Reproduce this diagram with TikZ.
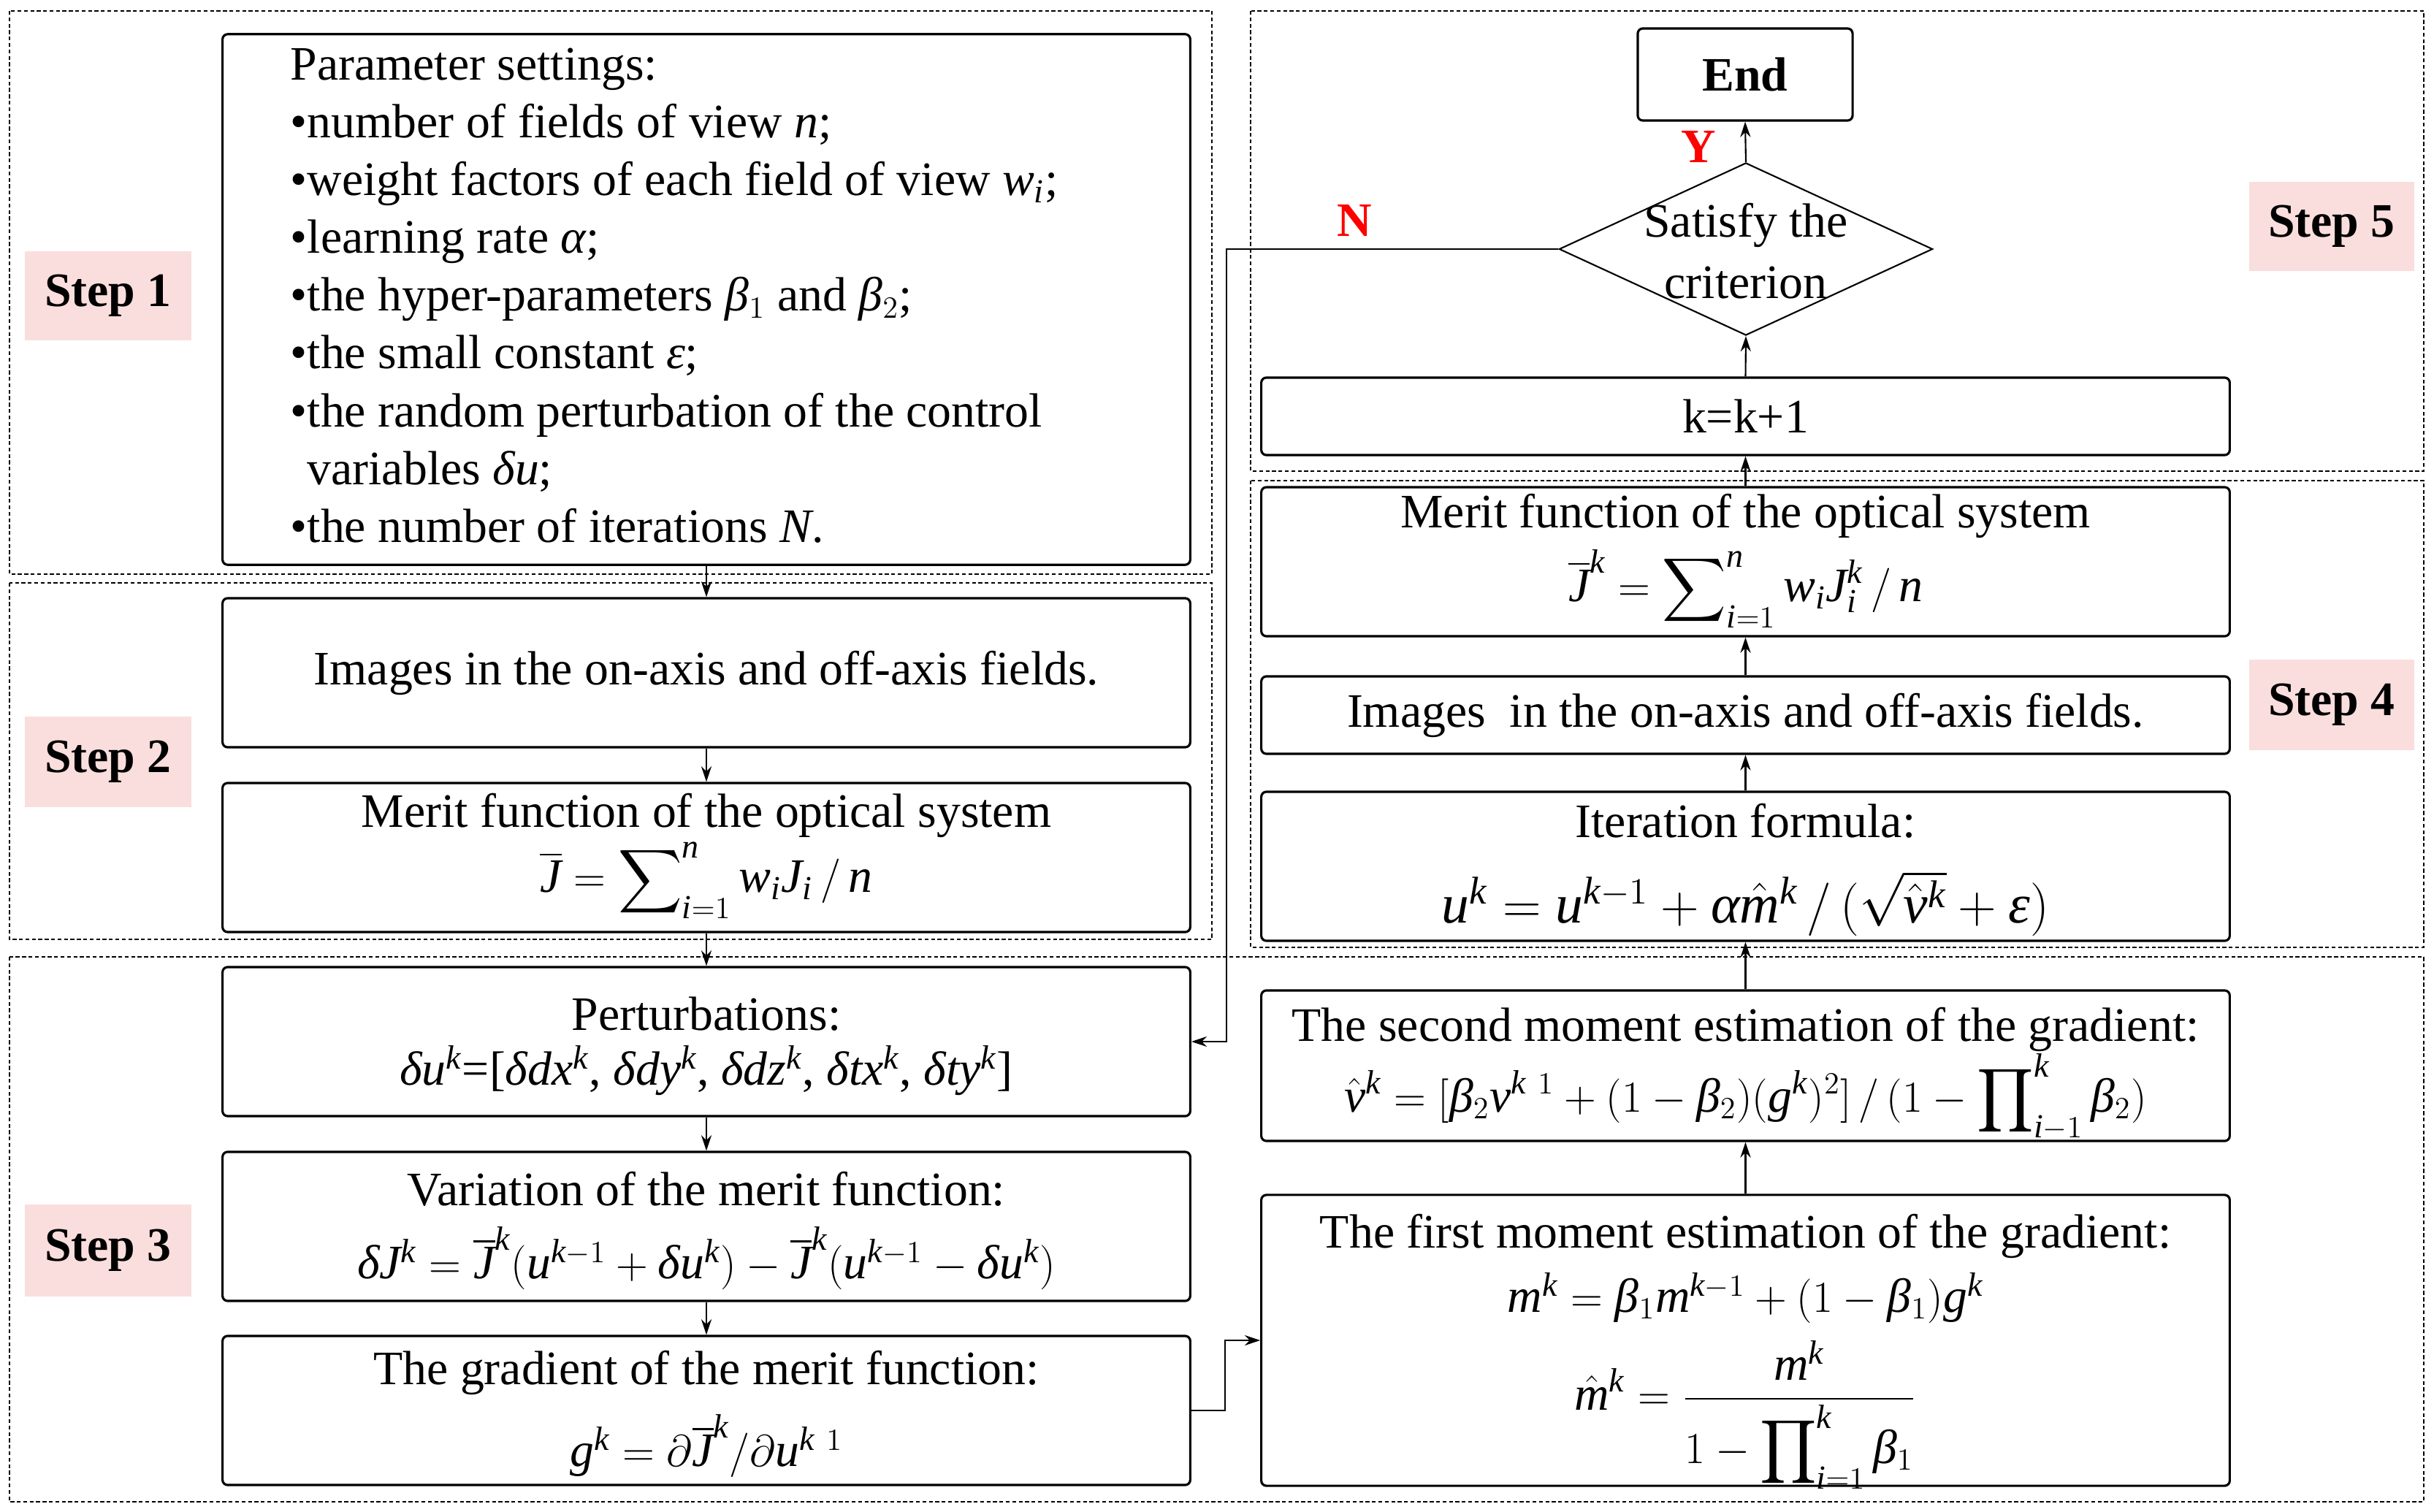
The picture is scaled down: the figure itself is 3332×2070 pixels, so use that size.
\documentclass[tikz,border=0pt]{standalone}
\usepackage{amsmath}
\usepackage{fontspec}
\setmainfont{Liberation Serif}[NFSSFamily=libser]
\DeclareSymbolFont{tletters}{TU}{libser}{m}{it}
\DeclareSymbolFont{troman}{TU}{libser}{m}{n}
\makeatletter
\@tempcnta=`a
\loop
  \Umathcode\@tempcnta="7 \symtletters \@tempcnta
  \advance\@tempcnta 1
\ifnum\@tempcnta<123 \repeat
\@tempcnta=`A
\loop
  \Umathcode\@tempcnta="7 \symtletters \@tempcnta
  \advance\@tempcnta 1
\ifnum\@tempcnta<91 \repeat
\@tempcnta=`0
\loop
  \Umathcode\@tempcnta="7 \symtroman \@tempcnta
  \advance\@tempcnta 1
\ifnum\@tempcnta<58 \repeat
\makeatother
\AtBeginDocument{%
  \Umathchardef\alpha="7 \symtletters "03B1
  \Umathchardef\beta="7 \symtletters "03B2
  \Umathchardef\delta="7 \symtletters "03B4
  \Umathchardef\varepsilon="7 \symtletters "03B5
}
\usetikzlibrary{shapes.geometric,arrows.meta}
\newcommand\myfs{\fontsize{18.7}{22.4}\selectfont}
\definecolor{stepink}{RGB}{249,222,221}
\begin{document}
\begin{tikzpicture}[x=0.01cm,y=-0.01cm,
  every node/.style={font=\myfs},
  box/.style={draw, line width=0.9pt, rounded corners=2pt, inner sep=0pt},
  frame/.style={draw, line width=0.6pt, dash pattern=on 1.5pt off 1pt},
  steplab/.style={fill=stepink, inner sep=0pt, font=\myfs\bfseries},
  arr/.style={line width=0.6pt, -{Stealth[length=6pt,width=4pt]}},
  lbl/.style={text=red, font=\myfs\bfseries},
  txt/.style={inner sep=0pt},
  pline/.style={anchor=base west, inner sep=0pt}]
\useasboundingbox (0,0) rectangle (3332,2070);
% dashed frames
\draw[frame] (13,15) rectangle (1659,786);
\draw[frame] (13,798) rectangle (1659,1286);
\draw[frame] (13,1310) rectangle (3318,2056);
\draw[frame] (1712,15) rectangle (3318,645);
\draw[frame] (1712,658) rectangle (3318,1297);
% step labels
\node[steplab, minimum width=2.27cm, minimum height=1.22cm] (s1) at (148,405) {Step 1};
\node[steplab, minimum width=2.27cm, minimum height=1.24cm] (s2) at (148,1043) {Step 2};
\node[steplab, minimum width=2.27cm, minimum height=1.25cm] (s3) at (148,1712) {Step 3};
\node[steplab, minimum width=2.26cm, minimum height=1.22cm] (s5) at (3192,310) {Step 5};
\node[steplab, minimum width=2.26cm, minimum height=1.24cm] (s4) at (3192,965) {Step 4};
% left column boxes
\node[box, minimum width=13.24cm, minimum height=7.26cm] (params) at (967,410) {};
\node[box, minimum width=13.24cm, minimum height=2.04cm] (img1) at (967,921) {};
\node[box, minimum width=13.24cm, minimum height=2.04cm] (merit1) at (967,1174) {};
\node[box, minimum width=13.24cm, minimum height=2.04cm] (pert) at (967,1426) {};
\node[box, minimum width=13.24cm, minimum height=2.04cm] (var) at (967,1679) {};
\node[box, minimum width=13.24cm, minimum height=2.04cm] (grad) at (967,1931) {};
% right column boxes
\node[box, minimum width=2.94cm, minimum height=1.26cm, font=\myfs\bfseries] (end) at (2389,102) {End};
\node[draw, line width=0.6pt, diamond, inner sep=0pt, minimum width=5.11cm, minimum height=2.36cm] (dia) at (2390,341) {};
\node[box, minimum width=13.25cm, minimum height=1.06cm] (kbox) at (2389.5,570) {k=k+1};
\node[box, minimum width=13.25cm, minimum height=2.04cm] (merit2) at (2389.5,769) {};
\node[box, minimum width=13.25cm, minimum height=1.06cm] (img2) at (2389.5,979) {Images\ \ in the on-axis and off-axis fields.};
\node[box, minimum width=13.25cm, minimum height=2.04cm] (iter) at (2389.5,1186) {};
\node[box, minimum width=13.25cm, minimum height=2.06cm] (second) at (2389.5,1459) {};
\node[box, minimum width=13.25cm, minimum height=3.98cm] (first) at (2389.5,1835) {};
% parameter text
\node[pline] (p1) at (397,110) {Parameter settings:};
\node[pline] (p2) at (397,189) {\textbullet number of fields of view $n$;};
\node[pline] (p3) at (397,268) {\textbullet weight factors of each field of view $w_i$;};
\node[pline] (p4) at (397,347) {\textbullet learning rate $\alpha$;};
\node[pline] (p5) at (397,426) {\textbullet the hyper-parameters $\beta_1$ and $\beta_2$;};
\node[pline] (p6) at (397,505) {\textbullet the small constant $\varepsilon$;};
\node[pline] (p7) at (397,584) {\textbullet the random perturbation of the control};
\node[pline] (p8) at (397,663) {\phantom{\textbullet}variables $\delta u$;};
\node[pline] (p9) at (397,742) {\textbullet the number of iterations $N$.};
% left column texts
\node[txt] (t_img1) at (967,921) {Images in the on-axis and off-axis fields.};
\node[txt] (t_m1a) at (967,1116) {Merit function of the optical system};
\node[txt] (t_m1b) at (967,1205) {$\displaystyle \overline{J}=\sum\nolimits_{i=1}^{n} w_iJ_i\,/\,n$};
\node[txt] (t_pa) at (967,1388) {Perturbations:};
\node[txt] (t_pb) at (967,1466) {$\delta u^k$=[$\delta dx^k$, $\delta dy^k$, $\delta dz^k$, $\delta tx^k$, $\delta ty^k$]};
\node[txt] (t_va) at (967,1628) {Variation of the merit function:};
\node[txt] (t_vb) at (967,1723) {$\delta J^k=\overline{J}^k(u^{k-1}+\delta u^k)-\overline{J}^k(u^{k-1}-\delta u^k)$};
\node[txt] (t_ga) at (967,1879) {The gradient of the merit function:};
\node[txt] (t_gb) at (967,1980) {$g^k=\partial\overline{J}^k/\partial u^{k\ 1}$};
% right column texts
\node[txt] (t_d1) at (2390,308) {Satisfy the};
\node[txt] (t_d2) at (2390,387) {criterion};
\node[txt] (t_m2a) at (2389.5,706) {Merit function of the optical system};
\node[txt] (t_m2b) at (2389.5,806) {$\displaystyle \overline{J}^k=\sum\nolimits_{i=1}^{n} w_iJ_i^k\,/\,n$};
\node[txt] (t_ia) at (2389.5,1124) {Iteration formula:};
\node[txt] (t_ib) at (2389.5,1237) {\fontsize{21.5}{26}\selectfont$u^k=u^{k-1}+\alpha\hat{m}^k\,/\,(\sqrt{\hat{v}^k}+\varepsilon)$};
\node[txt] (t_sa) at (2389.5,1409) {The second moment estimation of the gradient:};
\node[txt] (t_sb) at (2389.5,1502) {$\displaystyle \hat{v}^k=[\beta_2v^{k\ 1}+(1-\beta_2)(g^k)^2]\,/\,(1-\prod\nolimits_{i-1}^{k}\beta_2)$};
\node[txt] (t_fa) at (2389.5,1692) {The first moment estimation of the gradient:};
\node[txt] (t_fb) at (2389.5,1777) {$m^k=\beta_1m^{k-1}+(1-\beta_1)g^k$};
\node[txt] (t_fc) at (2389.5,1937) {$\displaystyle \hat{m}^k=\frac{m^k}{1-\displaystyle\prod\nolimits_{i=1}^{k}\beta_1}$};
% labels
\node[lbl] (ylab) at (2325,201) {Y};
\node[lbl] (nlab) at (1854,302) {N};
% connectors left
\draw[arr] (params.south) -- (img1.north);
\draw[arr] (img1.south) -- (merit1.north);
\draw[arr] (merit1.south) -- (pert.north);
\draw[arr] (pert.south) -- (var.north);
\draw[arr] (var.south) -- (grad.north);
% connectors right
\draw[arr] (first.north) -- (second.south);
\draw[arr] (second.north) -- (iter.south);
\draw[arr] (iter.north) -- (img2.south);
\draw[arr] (img2.north) -- (merit2.south);
\draw[arr] (merit2.north) -- (kbox.south);
\draw[arr] (kbox.north) -- (dia.south);
\draw[arr] (dia.north) -- (end.south);
% loops
\coordinate (nturn) at (1679,341);
\draw[arr] (dia.west) -- (nturn) |- (pert.east);
\coordinate (gturn) at (1677,1931);
\draw[arr] (grad.east) -- (gturn) |- (first.west);
\end{tikzpicture}
\end{document}
